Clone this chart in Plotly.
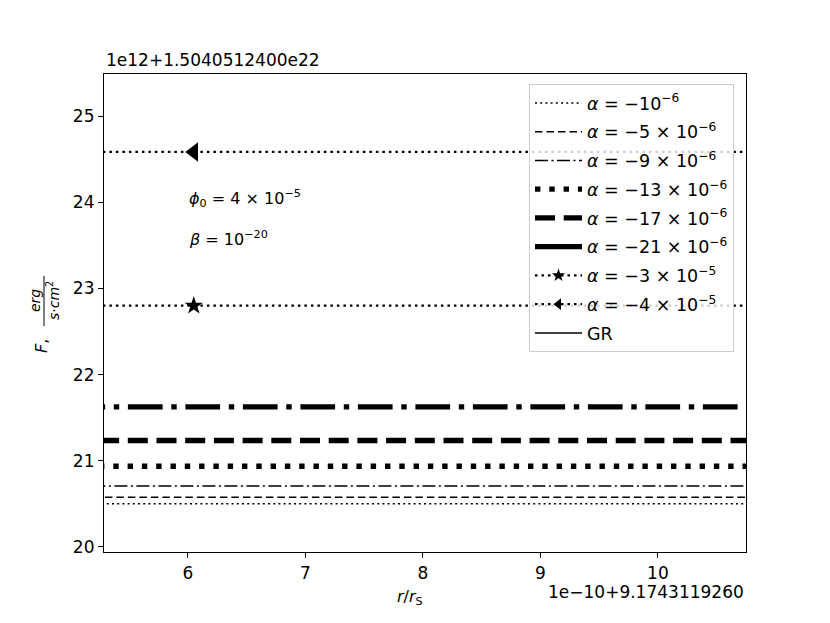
import plotly.graph_objects as go

# r / r_S in units of 1e-10 above offset 9.1743119260
r_grid = [5.0, 6.05, 11.0]
# F in units of 1e12 above offset 1.5040512400e22
alpha_labels = [
    "<i>α</i> = −10<sup>−6</sup>",
    "<i>α</i> = −5 × 10<sup>−6</sup>",
    "<i>α</i> = −9 × 10<sup>−6</sup>",
    "<i>α</i> = −13 × 10<sup>−6</sup>",
    "<i>α</i> = −17 × 10<sup>−6</sup>",
    "<i>α</i> = −21 × 10<sup>−6</sup>",
    "<i>α</i> = −3 × 10<sup>−5</sup>",
    "<i>α</i> = −4 × 10<sup>−5</sup>",
    "GR",
]
F_values = [20.50, 20.575, 20.705, 20.935, 21.235, 21.625, 22.80, 24.585, 19.50]
x_ticks = [6, 7, 8, 9, 10]
y_ticks = [20, 21, 22, 23, 24, 25]

# legend_dash: how the short legend handle looks (long patterns appear solid there)
styles = [
    dict(width=1.5, dash="2px,3.2px", legend_dash=None, symbol=None),
    dict(width=1.5, dash="7.5px,4px", legend_dash=None, symbol=None),
    dict(width=1.5, dash="13px,3.5px,2px,3.5px", legend_dash=None, symbol=None),
    dict(width=5.4, dash="5.4px,8.9px", legend_dash=None, symbol=None),
    dict(width=5.4, dash="20px,8.7px", legend_dash=None, symbol=None),
    dict(width=5.4, dash="34.7px,8.7px,5.4px,8.7px", legend_dash="solid", symbol=None),
    dict(width=2.2, dash="2.5px,4px", legend_dash=None, symbol="star"),
    dict(width=2.2, dash="2.5px,4px", legend_dash=None, symbol="triangle-left"),
    dict(width=1.5, dash="solid", legend_dash=None, symbol=None),
]

# screen geometry (browser adds 8px body margin)
W, H = 822, 615
L, T = 96, 66
PW, PH = 642, 478

fig = go.Figure()
hidden_plotted = []
for i, (lab, fv, st) in enumerate(zip(alpha_labels, F_values, styles)):
    line = dict(color="black", width=st["width"], dash=st["dash"])
    needs_proxy = st["symbol"] is not None or st["legend_dash"] is not None
    if needs_proxy:
        mode = "lines+markers" if st["symbol"] else "lines"
        big = 14 if st["symbol"] == "star" else 17
        plotted = dict(x=r_grid, y=[fv] * len(r_grid), mode=mode, line=line,
                       showlegend=False, cliponaxis=True, legendgroup=f"g{i}")
        proxy = dict(x=[None], y=[None], mode=mode, name=lab, legendgroup=f"g{i}",
                     line=dict(color="black", width=st["width"],
                               dash=st["legend_dash"] or st["dash"]))
        if st["symbol"]:
            plotted["marker"] = dict(symbol=st["symbol"], size=big, color="black",
                                     line=dict(width=0))
            proxy["marker"] = dict(symbol=st["symbol"], size=10, color="black",
                                   line=dict(width=0))
        fig.add_trace(go.Scatter(**proxy))
        hidden_plotted.append(plotted)
    else:
        fig.add_trace(go.Scatter(
            x=r_grid, y=[fv] * len(r_grid), mode="lines", line=line, name=lab,
            legendgroup=f"g{i}", cliponaxis=True,
        ))
for p in hidden_plotted:
    fig.add_trace(go.Scatter(**p))


def py(ys):
    # screen y (reference image) -> paper y
    return (552 - ys) / PH


font_family = "DejaVu Sans"
fig.update_layout(
    width=W, height=H,
    margin=dict(l=L, r=W - L - PW, t=T, b=H - T - PH),
    paper_bgcolor="white", plot_bgcolor="white",
    font=dict(family=font_family, size=17, color="black"),
    showlegend=True,
    legend=dict(
        x=(529 - 104) / PW, y=py(84), xanchor="left", yanchor="top",
        bgcolor="rgba(255,255,255,0.8)", bordercolor="#cccccc", borderwidth=1,
        font=dict(family=font_family, size=17.5, color="black"),
        itemwidth=47, tracegroupgap=3,
    ),
    xaxis=dict(
        range=[5.286, 10.75], tickvals=x_ticks, ticktext=[str(v) for v in x_ticks],
        showgrid=False, zeroline=False, showline=True, linecolor="black", linewidth=1.2,
        mirror=True, ticks="outside", ticklen=5, tickcolor="black", tickwidth=1.2,
    ),
    yaxis=dict(
        range=[19.94, 25.49], tickvals=y_ticks, ticktext=[str(v) for v in y_ticks],
        showgrid=False, zeroline=False, showline=True, linecolor="black", linewidth=1.2,
        mirror=True, ticks="outside", ticklen=5, tickcolor="black", tickwidth=1.2,
    ),
    shapes=[
        dict(type="line", xref="paper", yref="paper", x0=(44 - 104) / PW, x1=(44 - 104) / PW,
             y0=py(276), y1=py(326), line=dict(color="black", width=1)),
    ],
    annotations=[
        dict(text="1e12+1.5040512400e22", xref="paper", yref="paper", x=0, y=1,
             xanchor="left", yanchor="bottom", yshift=2, showarrow=False,
             font=dict(size=17)),
        dict(text="1e−10+9.1743119260", xref="paper", yref="paper", x=1, y=0,
             xanchor="right", yanchor="top", yshift=-28, showarrow=False,
             font=dict(size=17)),
        dict(text="<i>r</i>/<i>r</i><sub>S</sub>", xref="paper", yref="paper", x=0.477, y=0,
             xanchor="center", yanchor="top", yshift=-33, showarrow=False,
             font=dict(size=16)),
        dict(text="<i>F</i>,", xref="paper", yref="paper", x=(42 - 104) / PW, y=py(346),
             xanchor="center", yanchor="middle", showarrow=False,
             textangle=-90, font=dict(size=16)),
        dict(text="<i>erg</i>", xref="paper", yref="paper", x=(35 - 104) / PW, y=py(301),
             xanchor="center", yanchor="middle", showarrow=False,
             textangle=-90, font=dict(size=14)),
        dict(text="<i>s</i>·<i>cm</i><sup>2</sup>", xref="paper", yref="paper", x=(53 - 104) / PW,
             y=py(301), xanchor="center", yanchor="middle", showarrow=False,
             textangle=-90, font=dict(size=14)),
        dict(text="<i>ϕ</i><sub>0</sub> = 4 × 10<sup>−5</sup>", xref="x", yref="y",
             x=5.99, y=24.05, xanchor="left", yanchor="middle", showarrow=False,
             font=dict(size=16)),
        dict(text="<i>β</i> = 10<sup>−20</sup>", xref="x", yref="y",
             x=5.99, y=23.58, xanchor="left", yanchor="middle", showarrow=False,
             font=dict(size=16)),
    ],
)

fig.write_html("out.html")
